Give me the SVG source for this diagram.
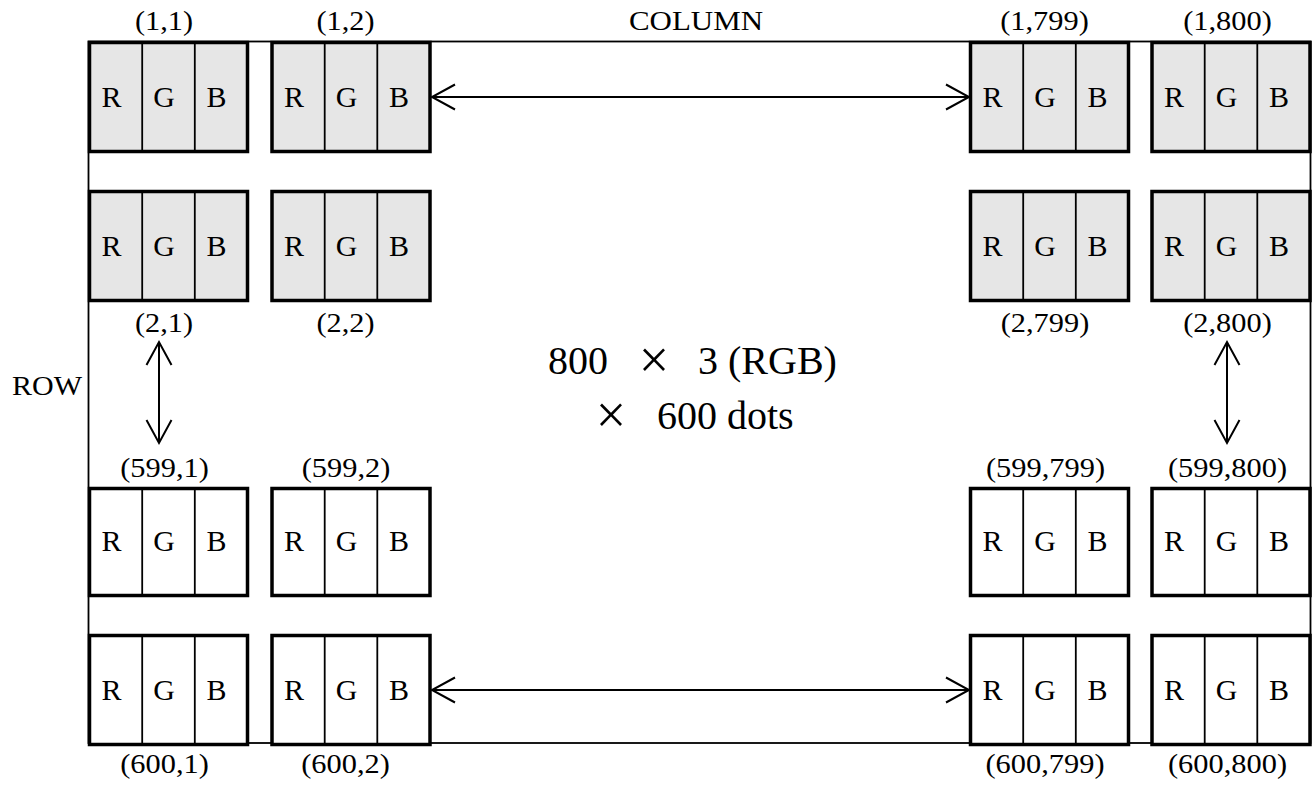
<svg xmlns="http://www.w3.org/2000/svg" width="1315" height="785" viewBox="0 0 1315 785">
<style>
  .frame{fill:none;stroke:#000;stroke-width:1.8}
  .box{stroke:#000;stroke-width:3.5}
  .gray{fill:#e6e6e6}
  .white{fill:#fff}
  .div{stroke:#000;stroke-width:1.8}
  .ch{font-family:"Liberation Serif","Times New Roman",serif;font-size:30px;text-anchor:middle;fill:#000}
  .lbl{font-family:"Liberation Serif","Times New Roman",serif;font-size:27px;text-anchor:middle;fill:#000}
  .big{font-family:"Liberation Serif","Times New Roman",serif;font-size:40px;fill:#000}
  .x{font-family:"Liberation Serif","Times New Roman",serif;font-size:54px;text-anchor:middle;fill:#000}
  .arr{stroke:#000;stroke-width:2;fill:none;marker-start:url(#ah);marker-end:url(#ah)}
</style>
<defs>
  <marker id="ah" viewBox="-26 -15 30 30" refX="0" refY="0" markerWidth="30" markerHeight="30" markerUnits="userSpaceOnUse" orient="auto-start-reverse">
    <path d="M-23,-12.5 L0,0 L-23,12.5" fill="none" stroke="#000" stroke-width="2"/>
  </marker>
  <g id="rgb">
    <line class="div" x1="52.7" y1="0" x2="52.7" y2="109"/>
    <line class="div" x1="105.3" y1="0" x2="105.3" y2="109"/>
    <rect class="box" x="0" y="0" width="158" height="109" fill="none"/>
  </g>
  <g id="rgb3">
    <line class="div" x1="52.7" y1="0" x2="52.7" y2="107"/>
    <line class="div" x1="105.3" y1="0" x2="105.3" y2="107"/>
    <rect class="box" x="0" y="0" width="158" height="107" fill="none"/>
  </g>
</defs>

<rect id="frame" class="frame" x="88.5" y="41.5" width="1222" height="701.5"/>

<g id="connectors">
  <line class="arr" x1="432" y1="97" x2="969" y2="97"/>
  <line class="arr" x1="432" y1="690" x2="969" y2="690"/>
  <line class="arr" x1="159" y1="342" x2="159" y2="443"/>
  <line class="arr" x1="1227" y1="342" x2="1227" y2="443"/>
</g>

<!-- Row 1 -->
<g id="p1_1"><rect class="gray" x="89.5" y="42.5" width="158" height="109"/><use href="#rgb" x="89.5" y="42.5"/>
  <text class="ch" x="111.5" y="107">R</text><text class="ch" x="164" y="107">G</text><text class="ch" x="216.5" y="107">B</text></g>
<g id="p1_2"><rect class="gray" x="272" y="42.5" width="158" height="109"/><use href="#rgb" x="272" y="42.5"/>
  <text class="ch" x="294" y="107">R</text><text class="ch" x="346.5" y="107">G</text><text class="ch" x="399" y="107">B</text></g>
<g id="p1_799"><rect class="gray" x="970.5" y="42.5" width="158" height="109"/><use href="#rgb" x="970.5" y="42.5"/>
  <text class="ch" x="992.5" y="107">R</text><text class="ch" x="1045" y="107">G</text><text class="ch" x="1097.5" y="107">B</text></g>
<g id="p1_800"><rect class="gray" x="1152" y="42.5" width="158" height="109"/><use href="#rgb" x="1152" y="42.5"/>
  <text class="ch" x="1174" y="107">R</text><text class="ch" x="1226.5" y="107">G</text><text class="ch" x="1279" y="107">B</text></g>

<!-- Row 2 -->
<g id="p2_1"><rect class="gray" x="89.5" y="191.5" width="158" height="109"/><use href="#rgb" x="89.5" y="191.5"/>
  <text class="ch" x="111.5" y="256">R</text><text class="ch" x="164" y="256">G</text><text class="ch" x="216.5" y="256">B</text></g>
<g id="p2_2"><rect class="gray" x="272" y="191.5" width="158" height="109"/><use href="#rgb" x="272" y="191.5"/>
  <text class="ch" x="294" y="256">R</text><text class="ch" x="346.5" y="256">G</text><text class="ch" x="399" y="256">B</text></g>
<g id="p2_799"><rect class="gray" x="970.5" y="191.5" width="158" height="109"/><use href="#rgb" x="970.5" y="191.5"/>
  <text class="ch" x="992.5" y="256">R</text><text class="ch" x="1045" y="256">G</text><text class="ch" x="1097.5" y="256">B</text></g>
<g id="p2_800"><rect class="gray" x="1152" y="191.5" width="158" height="109"/><use href="#rgb" x="1152" y="191.5"/>
  <text class="ch" x="1174" y="256">R</text><text class="ch" x="1226.5" y="256">G</text><text class="ch" x="1279" y="256">B</text></g>

<!-- Row 3 -->
<g id="p599_1"><rect class="white" x="89.5" y="488.5" width="158" height="107"/><use href="#rgb3" x="89.5" y="488.5"/>
  <text class="ch" x="111.5" y="551">R</text><text class="ch" x="164" y="551">G</text><text class="ch" x="216.5" y="551">B</text></g>
<g id="p599_2"><rect class="white" x="272" y="488.5" width="158" height="107"/><use href="#rgb3" x="272" y="488.5"/>
  <text class="ch" x="294" y="551">R</text><text class="ch" x="346.5" y="551">G</text><text class="ch" x="399" y="551">B</text></g>
<g id="p599_799"><rect class="white" x="970.5" y="488.5" width="158" height="107"/><use href="#rgb3" x="970.5" y="488.5"/>
  <text class="ch" x="992.5" y="551">R</text><text class="ch" x="1045" y="551">G</text><text class="ch" x="1097.5" y="551">B</text></g>
<g id="p599_800"><rect class="white" x="1152" y="488.5" width="158" height="107"/><use href="#rgb3" x="1152" y="488.5"/>
  <text class="ch" x="1174" y="551">R</text><text class="ch" x="1226.5" y="551">G</text><text class="ch" x="1279" y="551">B</text></g>

<!-- Row 4 -->
<g id="p600_1"><rect class="white" x="89.5" y="635.5" width="158" height="109"/><use href="#rgb" x="89.5" y="635.5"/>
  <text class="ch" x="111.5" y="700">R</text><text class="ch" x="164" y="700">G</text><text class="ch" x="216.5" y="700">B</text></g>
<g id="p600_2"><rect class="white" x="272" y="635.5" width="158" height="109"/><use href="#rgb" x="272" y="635.5"/>
  <text class="ch" x="294" y="700">R</text><text class="ch" x="346.5" y="700">G</text><text class="ch" x="399" y="700">B</text></g>
<g id="p600_799"><rect class="white" x="970.5" y="635.5" width="158" height="109"/><use href="#rgb" x="970.5" y="635.5"/>
  <text class="ch" x="992.5" y="700">R</text><text class="ch" x="1045" y="700">G</text><text class="ch" x="1097.5" y="700">B</text></g>
<g id="p600_800"><rect class="white" x="1152" y="635.5" width="158" height="109"/><use href="#rgb" x="1152" y="635.5"/>
  <text class="ch" x="1174" y="700">R</text><text class="ch" x="1226.5" y="700">G</text><text class="ch" x="1279" y="700">B</text></g>

<g id="labels">
  <text class="lbl" x="164" y="30" textLength="58" lengthAdjust="spacingAndGlyphs">(1,1)</text>
  <text class="lbl" x="345.5" y="30" textLength="58" lengthAdjust="spacingAndGlyphs">(1,2)</text>
  <text class="lbl" x="696" y="30" textLength="134" lengthAdjust="spacingAndGlyphs">COLUMN</text>
  <text class="lbl" x="1044.5" y="30" textLength="88.5" lengthAdjust="spacingAndGlyphs">(1,799)</text>
  <text class="lbl" x="1227.5" y="30" textLength="88.5" lengthAdjust="spacingAndGlyphs">(1,800)</text>

  <text class="lbl" x="164" y="332" textLength="58" lengthAdjust="spacingAndGlyphs">(2,1)</text>
  <text class="lbl" x="345.5" y="332" textLength="58" lengthAdjust="spacingAndGlyphs">(2,2)</text>
  <text class="lbl" x="1045" y="332" textLength="88.5" lengthAdjust="spacingAndGlyphs">(2,799)</text>
  <text class="lbl" x="1227.5" y="332" textLength="88.5" lengthAdjust="spacingAndGlyphs">(2,800)</text>

  <text class="lbl" x="47" y="395" textLength="70" lengthAdjust="spacingAndGlyphs">ROW</text>

  <text class="lbl" x="164.5" y="477" textLength="88.5" lengthAdjust="spacingAndGlyphs">(599,1)</text>
  <text class="lbl" x="346" y="477" textLength="88.5" lengthAdjust="spacingAndGlyphs">(599,2)</text>
  <text class="lbl" x="1045.5" y="477" textLength="119" lengthAdjust="spacingAndGlyphs">(599,799)</text>
  <text class="lbl" x="1227.5" y="477" textLength="119" lengthAdjust="spacingAndGlyphs">(599,800)</text>

  <text class="lbl" x="164.5" y="773" textLength="88.5" lengthAdjust="spacingAndGlyphs">(600,1)</text>
  <text class="lbl" x="345.5" y="773" textLength="88.5" lengthAdjust="spacingAndGlyphs">(600,2)</text>
  <text class="lbl" x="1045" y="773" textLength="119" lengthAdjust="spacingAndGlyphs">(600,799)</text>
  <text class="lbl" x="1227.5" y="773" textLength="119" lengthAdjust="spacingAndGlyphs">(600,800)</text>
</g>

<g id="title">
  <text class="big" x="548" y="374">800</text>
  <text class="x" x="654" y="378">×</text>
  <text class="big" x="698" y="374">3 (RGB)</text>
  <text class="x" x="611" y="433">×</text>
  <text class="big" x="657" y="429">600 dots</text>
</g>
</svg>
